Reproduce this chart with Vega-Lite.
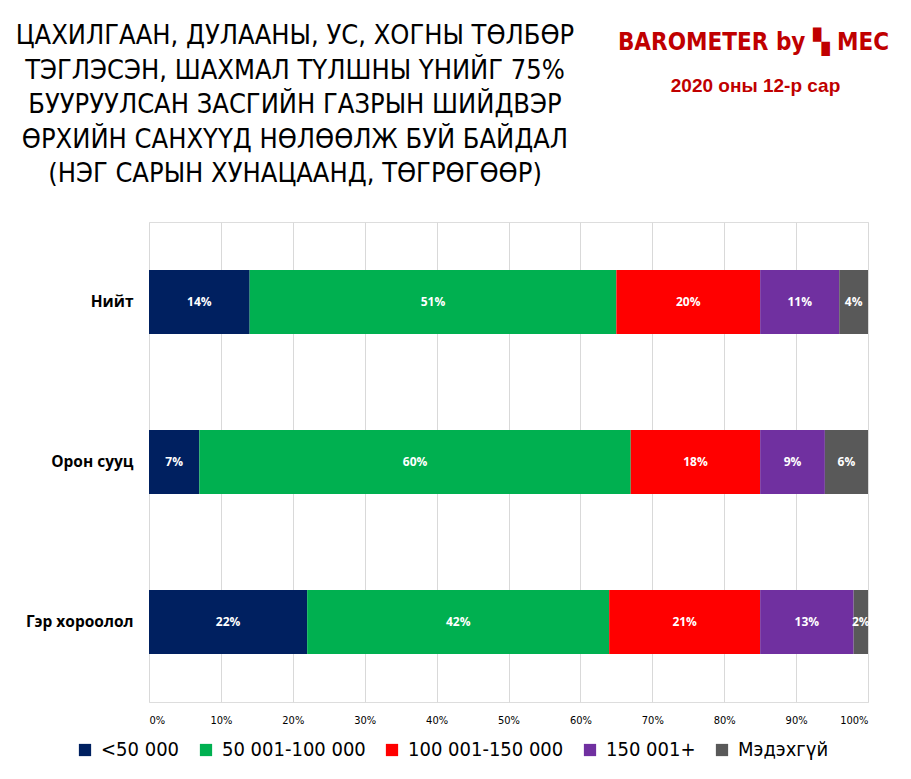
{
  "$schema": "https://vega.github.io/schema/vega-lite/v6.json",
  "width": 719,
  "height": 480,
  "autosize": {"type": "none"},
  "padding": {"left": 149, "top": 222, "right": 43, "bottom": 77},
  "background": "white",
  "title": {
    "text": [
      "ЦАХИЛГААН, ДУЛААНЫ, УС, ХОГНЫ ТӨЛБӨР",
      "ТЭГЛЭСЭН, ШАХМАЛ ТҮЛШНЫ ҮНИЙГ 75%",
      "БУУРУУЛСАН ЗАСГИЙН ГАЗРЫН ШИЙДВЭР",
      "ӨРХИЙН САНХҮҮД НӨЛӨӨЛЖ БУЙ БАЙДАЛ",
      "(НЭГ САРЫН ХУНАЦААНД, ТӨГРӨГӨӨР)"
    ],
    "anchor": "start",
    "frame": "group",
    "align": "center",
    "dx": 146,
    "offset": -158,
    "font": "DejaVu Sans Condensed",
    "fontSize": 27,
    "fontWeight": "normal",
    "lineHeight": 34.5,
    "color": "#000000"
  },
  "data": {
    "values": [
      {"group": "Нийт", "category": "<50 000", "order": 1, "value": 14},
      {"group": "Нийт", "category": "50 001-100 000", "order": 2, "value": 51},
      {"group": "Нийт", "category": "100 001-150 000", "order": 3, "value": 20},
      {"group": "Нийт", "category": "150 001+", "order": 4, "value": 11},
      {"group": "Нийт", "category": "Мэдэхгүй", "order": 5, "value": 4},
      {"group": "Орон сууц", "category": "<50 000", "order": 1, "value": 7},
      {"group": "Орон сууц", "category": "50 001-100 000", "order": 2, "value": 60},
      {"group": "Орон сууц", "category": "100 001-150 000", "order": 3, "value": 18},
      {"group": "Орон сууц", "category": "150 001+", "order": 4, "value": 9},
      {"group": "Орон сууц", "category": "Мэдэхгүй", "order": 5, "value": 6},
      {"group": "Гэр хороолол", "category": "<50 000", "order": 1, "value": 22},
      {"group": "Гэр хороолол", "category": "50 001-100 000", "order": 2, "value": 42},
      {"group": "Гэр хороолол", "category": "100 001-150 000", "order": 3, "value": 21},
      {"group": "Гэр хороолол", "category": "150 001+", "order": 4, "value": 13},
      {"group": "Гэр хороолол", "category": "Мэдэхгүй", "order": 5, "value": 2}
    ]
  },
  "transform": [
    {"stack": "value", "groupby": ["group"], "sort": [{"field": "order"}], "as": ["v0", "v1"]},
    {"calculate": "(datum.v0 + datum.v1) / 2", "as": "mid"},
    {"calculate": "datum.value + '%'", "as": "label"}
  ],
  "encoding": {
    "y": {
      "field": "group",
      "type": "nominal",
      "sort": ["Нийт", "Орон сууц", "Гэр хороолол"],
      "scale": {"paddingInner": 0.6, "paddingOuter": 0.3},
      "axis": {
        "title": "2020 оны 12-р сар",
        "titleAngle": 0,
        "titleX": 606,
        "titleY": -137,
        "titleAlign": "center",
        "titleBaseline": "middle",
        "titleFont": "Liberation Sans",
        "titleFontSize": 19,
        "titleFontWeight": "bold",
        "titleColor": "#C00000",
        "domain": false,
        "ticks": false,
        "labelFont": "Open Sans",
        "labelFontSize": 15.5,
        "labelFontWeight": "bold",
        "labelColor": "#000000",
        "labelPadding": 16
      }
    }
  },
  "layer": [
    {
      "mark": {"type": "bar"},
      "encoding": {
        "x": {
          "field": "v0",
          "type": "quantitative",
          "scale": {"domain": [0, 100]},
          "axis": {
            "title": "BAROMETER by ▚ MEC",
            "titleX": 604,
            "titleY": -660,
            "titleAlign": "center",
            "titleBaseline": "middle",
            "titleFont": "DejaVu Sans Condensed",
            "titleFontSize": 24,
            "titleFontWeight": "bold",
            "titleColor": "#C00000",
            "values": [0, 10, 20, 30, 40, 50, 60, 70, 80, 90, 100],
            "labelExpr": "datum.value + '%'",
            "labelFont": "DejaVu Sans Condensed",
            "labelFontSize": 11,
            "labelColor": "#000000",
            "labelPadding": 12,
            "domain": false,
            "ticks": false,
            "grid": true,
            "gridColor": "#D9D9D9"
          }
        },
        "x2": {"field": "v1"},
        "color": {
          "field": "category",
          "type": "nominal",
          "sort": ["<50 000", "50 001-100 000", "100 001-150 000", "150 001+", "Мэдэхгүй"],
          "scale": {
            "domain": ["<50 000", "50 001-100 000", "100 001-150 000", "150 001+", "Мэдэхгүй"],
            "range": ["#002060", "#00B050", "#FF0000", "#7030A0", "#595959"]
          },
          "legend": {
            "title": null,
            "orient": "none",
            "direction": "horizontal",
            "legendX": -74,
            "legendY": 518,
            "symbolType": "square",
            "symbolSize": 150,
            "symbolStrokeWidth": 0,
            "symbolOpacity": 1,
            "labelFont": "DejaVu Sans Condensed",
            "labelFontSize": 20,
            "labelLimit": 300,
            "labelColor": "#000000",
            "columnPadding": 16,
            "symbolOffset": 0,
            "labelOffset": 6
          }
        }
      }
    },
    {
      "mark": {"type": "text", "color": "white", "font": "Open Sans", "fontWeight": "bold", "fontSize": 12},
      "encoding": {
        "x": {"field": "mid", "type": "quantitative"},
        "text": {"field": "label", "type": "nominal"}
      }
    }
  ]
}
